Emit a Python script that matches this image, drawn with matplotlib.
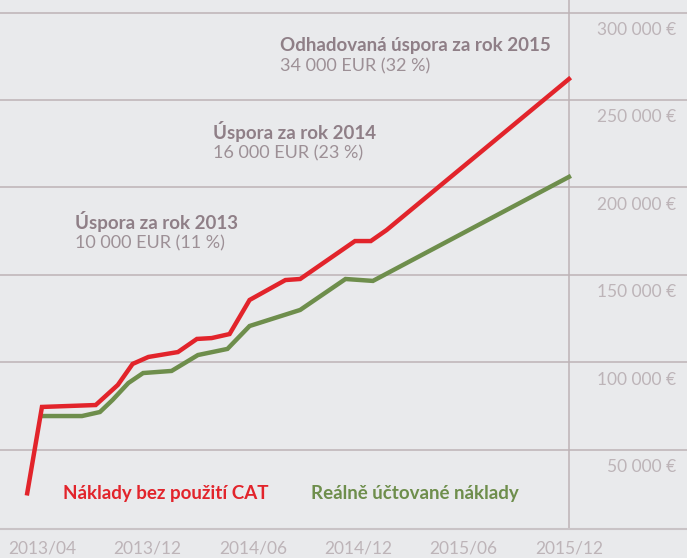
import matplotlib
matplotlib.use("Agg")
import matplotlib.pyplot as plt

plt.rcParams['font.family'] = ['Lato', 'DejaVu Sans']

# x positions in "tick units": 0 = 2013/04, 1 = 2013/12, ... 5 = 2015/12
period_labels = ['2013/04', '2013/12', '2014/06', '2014/12', '2015/06', '2015/12']

# cost without CAT (red)
red_x = [-0.14, 0.0, 0.51, 0.72, 0.86, 1.01, 1.29, 1.47, 1.61, 1.78, 1.97,
         2.14, 2.31, 2.45, 2.97, 3.12, 3.27, 5.0]
red_y = [25000, 74400, 75500, 87000, 99000, 103000, 105800, 113300, 113800,
         116100, 135600, 141300, 147000, 147600, 169300, 169300, 175600, 262000]

# really charged cost (green)
green_x = [0.0, 0.38, 0.55, 0.67, 0.82, 0.96, 1.23, 1.48, 1.76, 1.97, 2.45,
           2.88, 3.14, 5.0]
green_y = [69200, 69200, 71500, 78400, 88100, 93800, 95000, 104100, 107600,
           120700, 129900, 147600, 146500, 206000]

y_levels = [300000, 250000, 200000, 150000, 100000, 50000]
y_labels = ['300 000 €', '250 000 €', '200 000 €', '150 000 €', '100 000 €', '50 000 €']

savings = [
    ('Úspora za rok 2013', '10 000 EUR (11 %)'),
    ('Úspora za rok 2014', '16 000 EUR (23 %)'),
    ('Odhadovaná úspora za rok 2015', '34 000 EUR (32 %)'),
]

RED = '#e2242b'
GREEN = '#6e8e4c'
MAUVE = '#8f7f87'
VALUE = '#9d9096'
LIGHT = '#bdb4b8'
GRID = '#bdb2b6'
BG = '#e9eaec'

W, H = 687, 558
fig = plt.figure(figsize=(W / 100, H / 100), dpi=100, facecolor=BG)
ax = fig.add_axes([0, 29 / H, 1, 529 / H], facecolor=BG)

ax.set_xlim(-0.398, 6.12)
ax.set_ylim(4580, 307200)

for lvl, lab in zip(y_levels, y_labels):
    ax.axhline(lvl, color=GRID, lw=1.1, zorder=1)
    ax.annotate(lab, xy=(1, lvl), xycoords=('axes fraction', 'data'),
                xytext=(-8, -12.5), textcoords='offset points',
                ha='right', va='center', fontsize=12.5, color=LIGHT)
ax.axvline(5, color=GRID, lw=1.1, zorder=1)

ax.plot(red_x, red_y, color=RED, lw=3.2, solid_joinstyle='miter', zorder=3)
ax.plot(green_x, green_y, color=GREEN, lw=3.2, solid_joinstyle='miter', zorder=2)

for s in ['top', 'left', 'right']:
    ax.spines[s].set_visible(False)
ax.spines['bottom'].set_color('#c9c3c6')
ax.spines['bottom'].set_linewidth(1.5)
ax.set_yticks([])
ax.set_xticks(range(len(period_labels)))
ax.set_xticklabels(period_labels, fontsize=12.5, color=LIGHT)
ax.tick_params(axis='x', length=0, pad=8)

# savings annotations (pixel positions of the text block)
ann_pos = [(75, 222), (213, 132), (280, 45)]
for (title, value), (px, py) in zip(savings, ann_pos):
    fig.text(px / W, 1 - py / H, title, fontsize=13.5, fontweight='bold',
             color=MAUVE, ha='left', va='center')
    fig.text(px / W, 1 - (py + 21) / H, value, fontsize=13,
             color=VALUE, ha='left', va='center')

fig.text(63 / W, 1 - 493 / H, 'Náklady bez použití CAT', fontsize=13.5,
         fontweight='bold', color=RED, ha='left', va='center')
fig.text(311 / W, 1 - 493 / H, 'Reálně účtované náklady', fontsize=13.5,
         fontweight='bold', color=GREEN, ha='left', va='center')

fig.savefig('out.png', dpi=100, facecolor=BG)
